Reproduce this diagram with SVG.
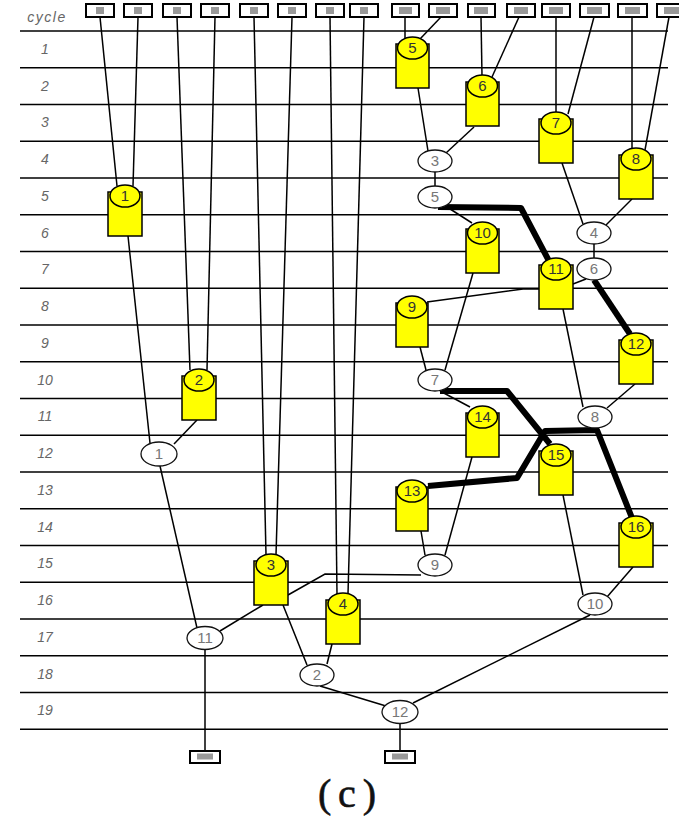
<svg xmlns="http://www.w3.org/2000/svg" width="679" height="822" viewBox="0 0 679 822">
<style>
.bg{fill:#fff}
.grid line{stroke:#000;stroke-width:1.5}
.lbl{font-family:"Liberation Sans",Arial,sans-serif;font-style:italic;font-size:14px;fill:#666;text-anchor:middle}
.w{stroke:#000;stroke-width:1.5;fill:none}
.thick{stroke:#000;stroke-width:6;fill:none;stroke-linejoin:round}
.cyl rect,.cyl ellipse{fill:#ffff00;stroke:#000;stroke-width:1.5}
.cyl text{font-family:"Liberation Sans",Arial,sans-serif;font-size:15px;fill:#333;text-anchor:middle}
.op ellipse{fill:#fff;stroke:#111;stroke-width:1.3}
.op text{font-family:"Liberation Sans",Arial,sans-serif;font-size:15px;fill:#777;text-anchor:middle}
.io .o{fill:#fff;stroke:#000;stroke-width:2}
.io .g{fill:#999}
</style>
<rect class="bg" x="0" y="0" width="679" height="822"/>
<g id="grid" class="grid">
<line x1="20" y1="31" x2="668" y2="31"/>
<line x1="20" y1="67.75" x2="668" y2="67.75"/>
<line x1="20" y1="104.5" x2="668" y2="104.5"/>
<line x1="20" y1="141.25" x2="668" y2="141.25"/>
<line x1="20" y1="178" x2="668" y2="178"/>
<line x1="20" y1="214.75" x2="668" y2="214.75"/>
<line x1="20" y1="251.5" x2="668" y2="251.5"/>
<line x1="20" y1="288.25" x2="668" y2="288.25"/>
<line x1="20" y1="325" x2="668" y2="325"/>
<line x1="20" y1="361.75" x2="668" y2="361.75"/>
<line x1="20" y1="398.5" x2="668" y2="398.5"/>
<line x1="20" y1="435.25" x2="668" y2="435.25"/>
<line x1="20" y1="472" x2="668" y2="472"/>
<line x1="20" y1="508.75" x2="668" y2="508.75"/>
<line x1="20" y1="545.5" x2="668" y2="545.5"/>
<line x1="20" y1="582.25" x2="668" y2="582.25"/>
<line x1="20" y1="619" x2="668" y2="619"/>
<line x1="20" y1="655.75" x2="668" y2="655.75"/>
<line x1="20" y1="692.5" x2="668" y2="692.5"/>
<line x1="20" y1="729.25" x2="668" y2="729.25"/>
</g>
<g id="labels" class="lbl">
<text x="47" y="22" letter-spacing="1.5">cycle</text>
<text x="45" y="54">1</text>
<text x="45" y="90.5">2</text>
<text x="45" y="127">3</text>
<text x="45" y="164">4</text>
<text x="45" y="200.5">5</text>
<text x="45" y="237.5">6</text>
<text x="45" y="274">7</text>
<text x="45" y="311">8</text>
<text x="45" y="347.5">9</text>
<text x="45" y="384.5">10</text>
<text x="45" y="421">11</text>
<text x="45" y="458">12</text>
<text x="45" y="494.5">13</text>
<text x="45" y="531.5">14</text>
<text x="45" y="568">15</text>
<text x="45" y="605">16</text>
<text x="45" y="641.5">17</text>
<text x="45" y="678.5">18</text>
<text x="45" y="715">19</text>
</g>
<g id="connectors">
<g class="w">
<line x1="100" y1="17" x2="117" y2="186"/>
<line x1="138" y1="17" x2="133" y2="186"/>
<line x1="177" y1="17" x2="190" y2="370"/>
<line x1="215" y1="17" x2="207" y2="370"/>
<line x1="254" y1="17" x2="266" y2="555"/>
<line x1="292" y1="17" x2="276" y2="555"/>
<line x1="330" y1="17" x2="337" y2="594"/>
<line x1="364" y1="17" x2="348" y2="594"/>
<line x1="405" y1="17" x2="405" y2="40"/>
<line x1="441" y1="17" x2="420" y2="39"/>
<line x1="481" y1="17" x2="482" y2="76"/>
<line x1="519" y1="17" x2="492" y2="77"/>
<line x1="556" y1="17" x2="556" y2="113"/>
<line x1="594" y1="17" x2="568" y2="114"/>
<line x1="632" y1="17" x2="632" y2="149"/>
<line x1="669" y1="17" x2="645" y2="150"/>
<line x1="128" y1="236" x2="150" y2="443"/>
<line x1="197" y1="420" x2="174" y2="444"/>
<line x1="160" y1="466" x2="197" y2="628"/>
<line x1="205" y1="649" x2="205" y2="751"/>
<line x1="263" y1="605" x2="220" y2="631"/>
<polyline points="288,595 325,574 421,575"/>
<line x1="283" y1="605" x2="307" y2="665"/>
<line x1="332" y1="644" x2="327" y2="664"/>
<line x1="320" y1="686" x2="386" y2="706"/>
<line x1="590" y1="615" x2="413" y2="703"/>
<line x1="400" y1="723" x2="400" y2="751"/>
<line x1="418" y1="88" x2="428" y2="151"/>
<line x1="474" y1="127" x2="446" y2="153"/>
<line x1="562" y1="163" x2="583" y2="224"/>
<line x1="632" y1="199" x2="606" y2="225"/>
<line x1="435" y1="172" x2="435" y2="186"/>
<line x1="447" y1="207" x2="472" y2="223"/>
<line x1="594" y1="244" x2="594" y2="258"/>
<line x1="586" y1="279" x2="573" y2="284"/>
<line x1="473" y1="273" x2="445" y2="370"/>
<polyline points="427,302 523,289 539,289"/>
<line x1="420" y1="347" x2="426" y2="370"/>
<line x1="563" y1="309" x2="583" y2="407"/>
<line x1="635" y1="384" x2="607" y2="408"/>
<line x1="440" y1="391" x2="470" y2="407"/>
<line x1="472" y1="457" x2="445" y2="555"/>
<line x1="421" y1="531" x2="425" y2="555"/>
<line x1="563" y1="495" x2="583" y2="595"/>
<line x1="633" y1="567" x2="607" y2="597"/>
</g>
<g class="thick">
<polyline points="438,207 521,208 549,261"/>
<line x1="594" y1="280" x2="630" y2="334"/>
<polyline points="440,391 507,391 550,444"/>
<polyline points="428,486 517,478 545,431 597,430 632,518"/>
</g>
</g>
<g id="inputs" class="io">
<g id="in1"><rect class="o" x="86" y="4" width="28" height="13"/><rect class="g" x="96" y="7" width="8" height="7"/></g>
<g id="in2"><rect class="o" x="124" y="4" width="28" height="13"/><rect class="g" x="134" y="7" width="8" height="7"/></g>
<g id="in3"><rect class="o" x="163" y="4" width="28" height="13"/><rect class="g" x="173" y="7" width="8" height="7"/></g>
<g id="in4"><rect class="o" x="201" y="4" width="28" height="13"/><rect class="g" x="211" y="7" width="8" height="7"/></g>
<g id="in5"><rect class="o" x="240" y="4" width="28" height="13"/><rect class="g" x="250" y="7" width="8" height="7"/></g>
<g id="in6"><rect class="o" x="278" y="4" width="28" height="13"/><rect class="g" x="288" y="7" width="8" height="7"/></g>
<g id="in7"><rect class="o" x="316" y="4" width="28" height="13"/><rect class="g" x="326" y="7" width="8" height="7"/></g>
<g id="in8"><rect class="o" x="350" y="4" width="28" height="13"/><rect class="g" x="360" y="7" width="8" height="7"/></g>
<g id="in9"><rect class="o" x="392" y="4" width="27" height="13"/><rect class="g" x="399" y="7" width="13" height="7"/></g>
<g id="in10"><rect class="o" x="429" y="4" width="28" height="13"/><rect class="g" x="436" y="7" width="14" height="7"/></g>
<g id="in11"><rect class="o" x="468" y="4" width="27" height="13"/><rect class="g" x="474" y="7" width="14" height="7"/></g>
<g id="in12"><rect class="o" x="507" y="4" width="28" height="13"/><rect class="g" x="514" y="7" width="14" height="7"/></g>
<g id="in13"><rect class="o" x="542" y="4" width="28" height="13"/><rect class="g" x="549" y="7" width="14" height="7"/></g>
<g id="in14"><rect class="o" x="580" y="4" width="29" height="13"/><rect class="g" x="587" y="7" width="15" height="7"/></g>
<g id="in15"><rect class="o" x="618" y="4" width="29" height="13"/><rect class="g" x="625" y="7" width="15" height="7"/></g>
<g id="in16"><rect class="o" x="657" y="4" width="28" height="13"/><rect class="g" x="664" y="7" width="15" height="7"/></g>
</g>
<g id="outputs" class="io">
<g id="out1"><rect class="o" x="190" y="751" width="30" height="12"/><rect class="g" x="197" y="753.5" width="16" height="6"/></g>
<g id="out2"><rect class="o" x="385" y="751" width="30" height="12"/><rect class="g" x="392" y="753.5" width="16" height="6"/></g>
</g>
<g id="cylinders" class="cyl">
<g id="n1"><rect x="108" y="192" width="34" height="44"/><ellipse cx="125" cy="196" rx="15" ry="11"/><text x="125" y="201">1</text></g>
<g id="n2"><rect x="182" y="376" width="34" height="44"/><ellipse cx="199" cy="380" rx="15" ry="11"/><text x="199" y="385">2</text></g>
<g id="n3"><rect x="254" y="561" width="34" height="44"/><ellipse cx="271" cy="565" rx="15" ry="11"/><text x="271" y="570">3</text></g>
<g id="n4"><rect x="326" y="600" width="34" height="44"/><ellipse cx="343" cy="604" rx="15" ry="11"/><text x="343" y="609">4</text></g>
<g id="n5"><rect x="396" y="44" width="33" height="44"/><ellipse cx="412.5" cy="48" rx="15" ry="11"/><text x="412.5" y="53">5</text></g>
<g id="n6"><rect x="466" y="82" width="33" height="44"/><ellipse cx="482.5" cy="86" rx="15" ry="11"/><text x="482.5" y="91">6</text></g>
<g id="n7"><rect x="539" y="119" width="34" height="44"/><ellipse cx="556" cy="123" rx="15" ry="11"/><text x="556" y="128">7</text></g>
<g id="n8"><rect x="619" y="155" width="34" height="44"/><ellipse cx="636" cy="159" rx="15" ry="11"/><text x="636" y="164">8</text></g>
<g id="n9"><rect x="396" y="303" width="32" height="44"/><ellipse cx="412" cy="307" rx="15" ry="11"/><text x="412" y="312">9</text></g>
<g id="n10"><rect x="466" y="229" width="33" height="44"/><ellipse cx="482.5" cy="233" rx="15" ry="11"/><text x="482.5" y="238">10</text></g>
<g id="n11"><rect x="539" y="265" width="34" height="44"/><ellipse cx="556" cy="269" rx="15" ry="11"/><text x="556" y="274">11</text></g>
<g id="n12"><rect x="619" y="340" width="34" height="44"/><ellipse cx="636" cy="344" rx="15" ry="11"/><text x="636" y="349">12</text></g>
<g id="n13"><rect x="396" y="487" width="32" height="44"/><ellipse cx="412" cy="491" rx="15" ry="11"/><text x="412" y="496">13</text></g>
<g id="n14"><rect x="466" y="413" width="33" height="44"/><ellipse cx="482.5" cy="417" rx="15" ry="11"/><text x="482.5" y="422">14</text></g>
<g id="n15"><rect x="539" y="451" width="34" height="44"/><ellipse cx="556" cy="455" rx="15" ry="11"/><text x="556" y="460">15</text></g>
<g id="n16"><rect x="619" y="523" width="34" height="44"/><ellipse cx="636" cy="527" rx="15" ry="11"/><text x="636" y="532">16</text></g>
</g>
<g id="ops" class="op">
<g id="o1"><ellipse cx="159" cy="454" rx="18" ry="12"/><text x="159" y="459">1</text></g>
<g id="o2"><ellipse cx="317" cy="675" rx="17" ry="11"/><text x="317" y="680">2</text></g>
<g id="o3"><ellipse cx="435" cy="161" rx="17" ry="11"/><text x="435" y="166">3</text></g>
<g id="o4"><ellipse cx="594" cy="233" rx="17" ry="11"/><text x="594" y="238">4</text></g>
<g id="o5"><ellipse cx="435" cy="197" rx="17" ry="11"/><text x="435" y="202">5</text></g>
<g id="o6"><ellipse cx="594" cy="269" rx="17" ry="11"/><text x="594" y="274">6</text></g>
<g id="o7"><ellipse cx="435" cy="380" rx="17" ry="11"/><text x="435" y="385">7</text></g>
<g id="o8"><ellipse cx="595" cy="417" rx="17" ry="11"/><text x="595" y="422">8</text></g>
<g id="o9"><ellipse cx="435" cy="565" rx="17" ry="11"/><text x="435" y="570">9</text></g>
<g id="o10"><ellipse cx="595" cy="604" rx="17" ry="11"/><text x="595" y="609">10</text></g>
<g id="o11"><ellipse cx="205" cy="638" rx="18" ry="11.5"/><text x="205" y="643">11</text></g>
<g id="o12"><ellipse cx="400" cy="712" rx="18" ry="11.5"/><text x="400" y="717">12</text></g>
</g>
<text x="347" y="807" font-family="'Liberation Serif','Times New Roman',serif" font-size="40" text-anchor="middle" textLength="58" lengthAdjust="spacing" fill="#111" stroke="#111" stroke-width="0.6">(c)</text>
</svg>
